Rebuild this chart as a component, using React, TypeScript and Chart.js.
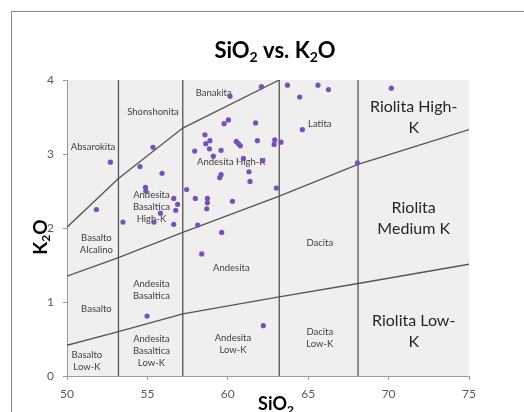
import React, { useEffect, useRef } from 'react';
import { Chart, registerables } from 'chart.js';

Chart.register(...registerables);

// ---- sample data (SiO2 wt%, K2O wt%) ----
const SIO2 = [
  52.70, 51.83, 55.35, 54.54, 55.91, 54.88, 54.90, 56.64, 56.88, 56.76,
  55.81, 55.41, 53.48, 56.64, 57.44, 57.98, 58.73, 58.73, 58.69, 58.13,
  59.62, 60.29, 57.94, 58.58, 58.63, 58.89, 58.86, 59.58, 59.10, 59.50,
  59.58, 59.77, 60.04, 60.14, 62.09, 60.53, 60.66, 60.78, 60.97, 61.32,
  61.38, 61.73, 61.84, 62.17, 62.92, 62.88, 63.31, 63.02, 63.71, 65.61,
  66.26, 64.47, 64.64, 68.06, 70.17, 58.38, 62.21, 54.98,
];
const K2O = [
  2.89, 2.25, 3.09, 2.83, 2.74, 2.55, 2.50, 2.40, 2.32, 2.24,
  2.20, 2.08, 2.08, 2.05, 2.52, 2.40, 2.40, 2.34, 2.26, 2.04,
  1.94, 2.36, 3.04, 3.26, 3.14, 3.18, 3.07, 3.05, 2.97, 2.68,
  2.72, 3.41, 3.46, 3.78, 3.91, 3.17, 3.14, 3.11, 2.94, 2.76,
  2.63, 3.42, 3.18, 2.91, 3.19, 3.13, 3.16, 2.54, 3.93, 3.93,
  3.87, 3.77, 3.33, 2.88, 3.89, 1.65, 0.68, 0.81,
];

// ---- field boundaries ----
const SERIES_X = [50, 53.2, 57.2, 63.2, 68.1, 75];
const LOW_K_Y = [0.415, 0.60, 0.84, 1.07, 1.25, 1.51];
const MED_K_Y = [1.35, 1.60, 1.94, 2.43, 2.86, 3.33];
const SHO_X = [50, 53.2, 57.2, 63.2];
const SHO_Y = [2.01, 2.67, 3.35, 4.0];
const VERTICALS = [53.2, 57.2, 63.2, 68.1];

// ---- axis ticks ----
const X_MIN = 50, X_MAX = 75, X_STEP = 5;
const Y_MIN = 0, Y_MAX = 4, Y_STEP = 1;

// ---- field names ----
const SMALL_NAMES = [
  ['Absarokita'], ['Shonshonita'], ['Banakita'], ['Latita'], ['Andesita High-K'],
  ['Andesita', 'Basaltica', 'High-K'], ['Basalto', 'Alcalino'], ['Andesita'], ['Dacita'],
  ['Andesita', 'Basaltica'], ['Basalto'], ['Andesita', 'Basaltica', 'Low-K'],
  ['Basalto', 'Low-K'], ['Andesita', 'Low-K'], ['Dacita', 'Low-K'],
];
const SMALL_X = [51.62, 55.35, 59.12, 65.72, 60.22, 55.25, 51.83, 60.22, 65.72, 55.25, 51.83, 55.25, 51.24, 60.32, 65.72];
const SMALL_Y = [3.09, 3.57, 3.82, 3.40, 2.89, 2.29, 1.78, 1.46, 1.80, 1.165, 0.90, 0.334, 0.21, 0.44, 0.52];
const BIG_NAMES = [['Riolita High-', 'K'], ['Riolita', 'Medium K'], ['Riolita Low-', 'K']];
const BIG_X = [71.56, 71.56, 71.56];
const BIG_Y = [3.50, 2.13, 0.60];

const FONT = 'Lato, "Open Sans", sans-serif';
const LINE_COLOR = '#555555';
const AXIS_COLOR = '#9a9a9a';

function drawSubText(ctx: CanvasRenderingContext2D, parts: [string, boolean][], cx: number, base: number, size: number, subSize: number, subDrop: number) {
  const big = `bold ${size}px ${FONT}`;
  const small = `bold ${subSize}px ${FONT}`;
  let total = 0;
  const widths = parts.map(([t, sub]) => {
    ctx.font = sub ? small : big;
    const w = ctx.measureText(t).width;
    total += w;
    return w;
  });
  let x = cx - total / 2;
  ctx.textAlign = 'left';
  ctx.textBaseline = 'alphabetic';
  parts.forEach(([t, sub], i) => {
    ctx.font = sub ? small : big;
    ctx.fillText(t, x, sub ? base + subDrop : base);
    x += widths[i];
  });
}

const decor = {
  id: 'decor',
  beforeDraw(chart: any) {
    const { ctx, chartArea: a } = chart;
    ctx.save();
    ctx.fillStyle = '#ffffff';
    ctx.fillRect(0, 0, chart.width, chart.height);
    ctx.fillStyle = '#efefef';
    ctx.fillRect(a.left, a.top, a.right - a.left, a.bottom - a.top);
    ctx.strokeStyle = '#8c8c8c';
    ctx.lineWidth = 1;
    ctx.strokeRect(11.5, 11.5, 1000, 1000);
    ctx.restore();
  },
  beforeDatasetsDraw(chart: any) {
    const { ctx, scales } = chart;
    const xs = scales.x, ys = scales.y;
    ctx.save();
    ctx.fillStyle = '#404040';
    ctx.textAlign = 'center';
    ctx.textBaseline = 'middle';
    ctx.font = `9.5px ${FONT}`;
    SMALL_NAMES.forEach((lines, i) => {
      const px = xs.getPixelForValue(SMALL_X[i]);
      const py = ys.getPixelForValue(SMALL_Y[i]);
      const lh = 12;
      lines.forEach((t, j) => ctx.fillText(t, px, py + (j - (lines.length - 1) / 2) * lh));
    });
    ctx.fillStyle = '#262626';
    ctx.font = `16px ${FONT}`;
    BIG_NAMES.forEach((lines, i) => {
      const px = xs.getPixelForValue(BIG_X[i]);
      const py = ys.getPixelForValue(BIG_Y[i]);
      const lh = 21;
      lines.forEach((t, j) => ctx.fillText(t, px, py + (j - (lines.length - 1) / 2) * lh));
    });
    ctx.restore();
  },
  afterDraw(chart: any) {
    const { ctx } = chart;
    ctx.save();
    ctx.fillStyle = '#000000';
    drawSubText(ctx, [['SiO', false], ['2', true], [' vs. K', false], ['2', true], ['O', false]], 275, 58, 22, 14, 4);
    drawSubText(ctx, [['SiO', false], ['2', true]], 276, 410, 18, 12, 4);
    ctx.translate(46.5, 237);
    ctx.rotate(-Math.PI / 2);
    drawSubText(ctx, [['K', false], ['2', true], ['O', false]], 0, 0, 19, 12, 3);
    ctx.restore();
  },
};

function lineSet(xs: number[], ys: number[]) {
  return {
    type: 'scatter' as const,
    data: xs.map((x, i) => ({ x, y: ys[i] })),
    showLine: true,
    borderColor: LINE_COLOR,
    borderWidth: 1.3,
    pointRadius: 0,
    pointHoverRadius: 0,
    fill: false,
    order: 2,
  };
}

export default function App() {
  const ref = useRef<HTMLCanvasElement>(null);
  useEffect(() => {
    document.body.style.margin = '0';
    const canvas = ref.current!;
    const datasets: any[] = [
      {
        type: 'scatter',
        data: SIO2.map((x, i) => ({ x, y: K2O[i] })),
        backgroundColor: '#7b4fb8',
        borderWidth: 0,
        pointRadius: 2.6,
        order: 0,
      },
      lineSet(SERIES_X, LOW_K_Y),
      lineSet(SERIES_X, MED_K_Y),
      lineSet(SHO_X, SHO_Y),
      ...VERTICALS.map((v) => lineSet([v, v], [Y_MIN, Y_MAX])),
    ];
    const chart = new Chart(canvas, {
      type: 'scatter',
      data: { datasets },
      plugins: [decor],
      options: {
        animation: false,
        responsive: false,
        layout: { padding: { left: 0, right: 55, top: 80, bottom: 0 } },
        plugins: { legend: { display: false }, tooltip: { enabled: false }, title: { display: false } },
        scales: {
          x: {
            type: 'linear',
            min: X_MIN,
            max: X_MAX,
            ticks: { stepSize: X_STEP, color: '#595959', font: { family: FONT, size: 12 }, padding: 7 },
            grid: { drawOnChartArea: false, drawTicks: true, tickLength: 4, color: AXIS_COLOR },
            border: { color: AXIS_COLOR },
            afterFit: (s: any) => { s.height = 36; },
          },
          y: {
            type: 'linear',
            min: Y_MIN,
            max: Y_MAX,
            ticks: { stepSize: Y_STEP, color: '#595959', font: { family: FONT, size: 12 }, padding: 9 },
            grid: { drawOnChartArea: false, drawTicks: true, tickLength: 4, color: AXIS_COLOR },
            border: { color: AXIS_COLOR },
            afterFit: (s: any) => { s.width = 67; },
          },
        },
      },
    });
    return () => chart.destroy();
  }, []);
  return (
    <div style={{ position: 'absolute', left: 0, top: 0, width: 524, height: 412 }}>
      <canvas ref={ref} width={524} height={412} />
    </div>
  );
}
